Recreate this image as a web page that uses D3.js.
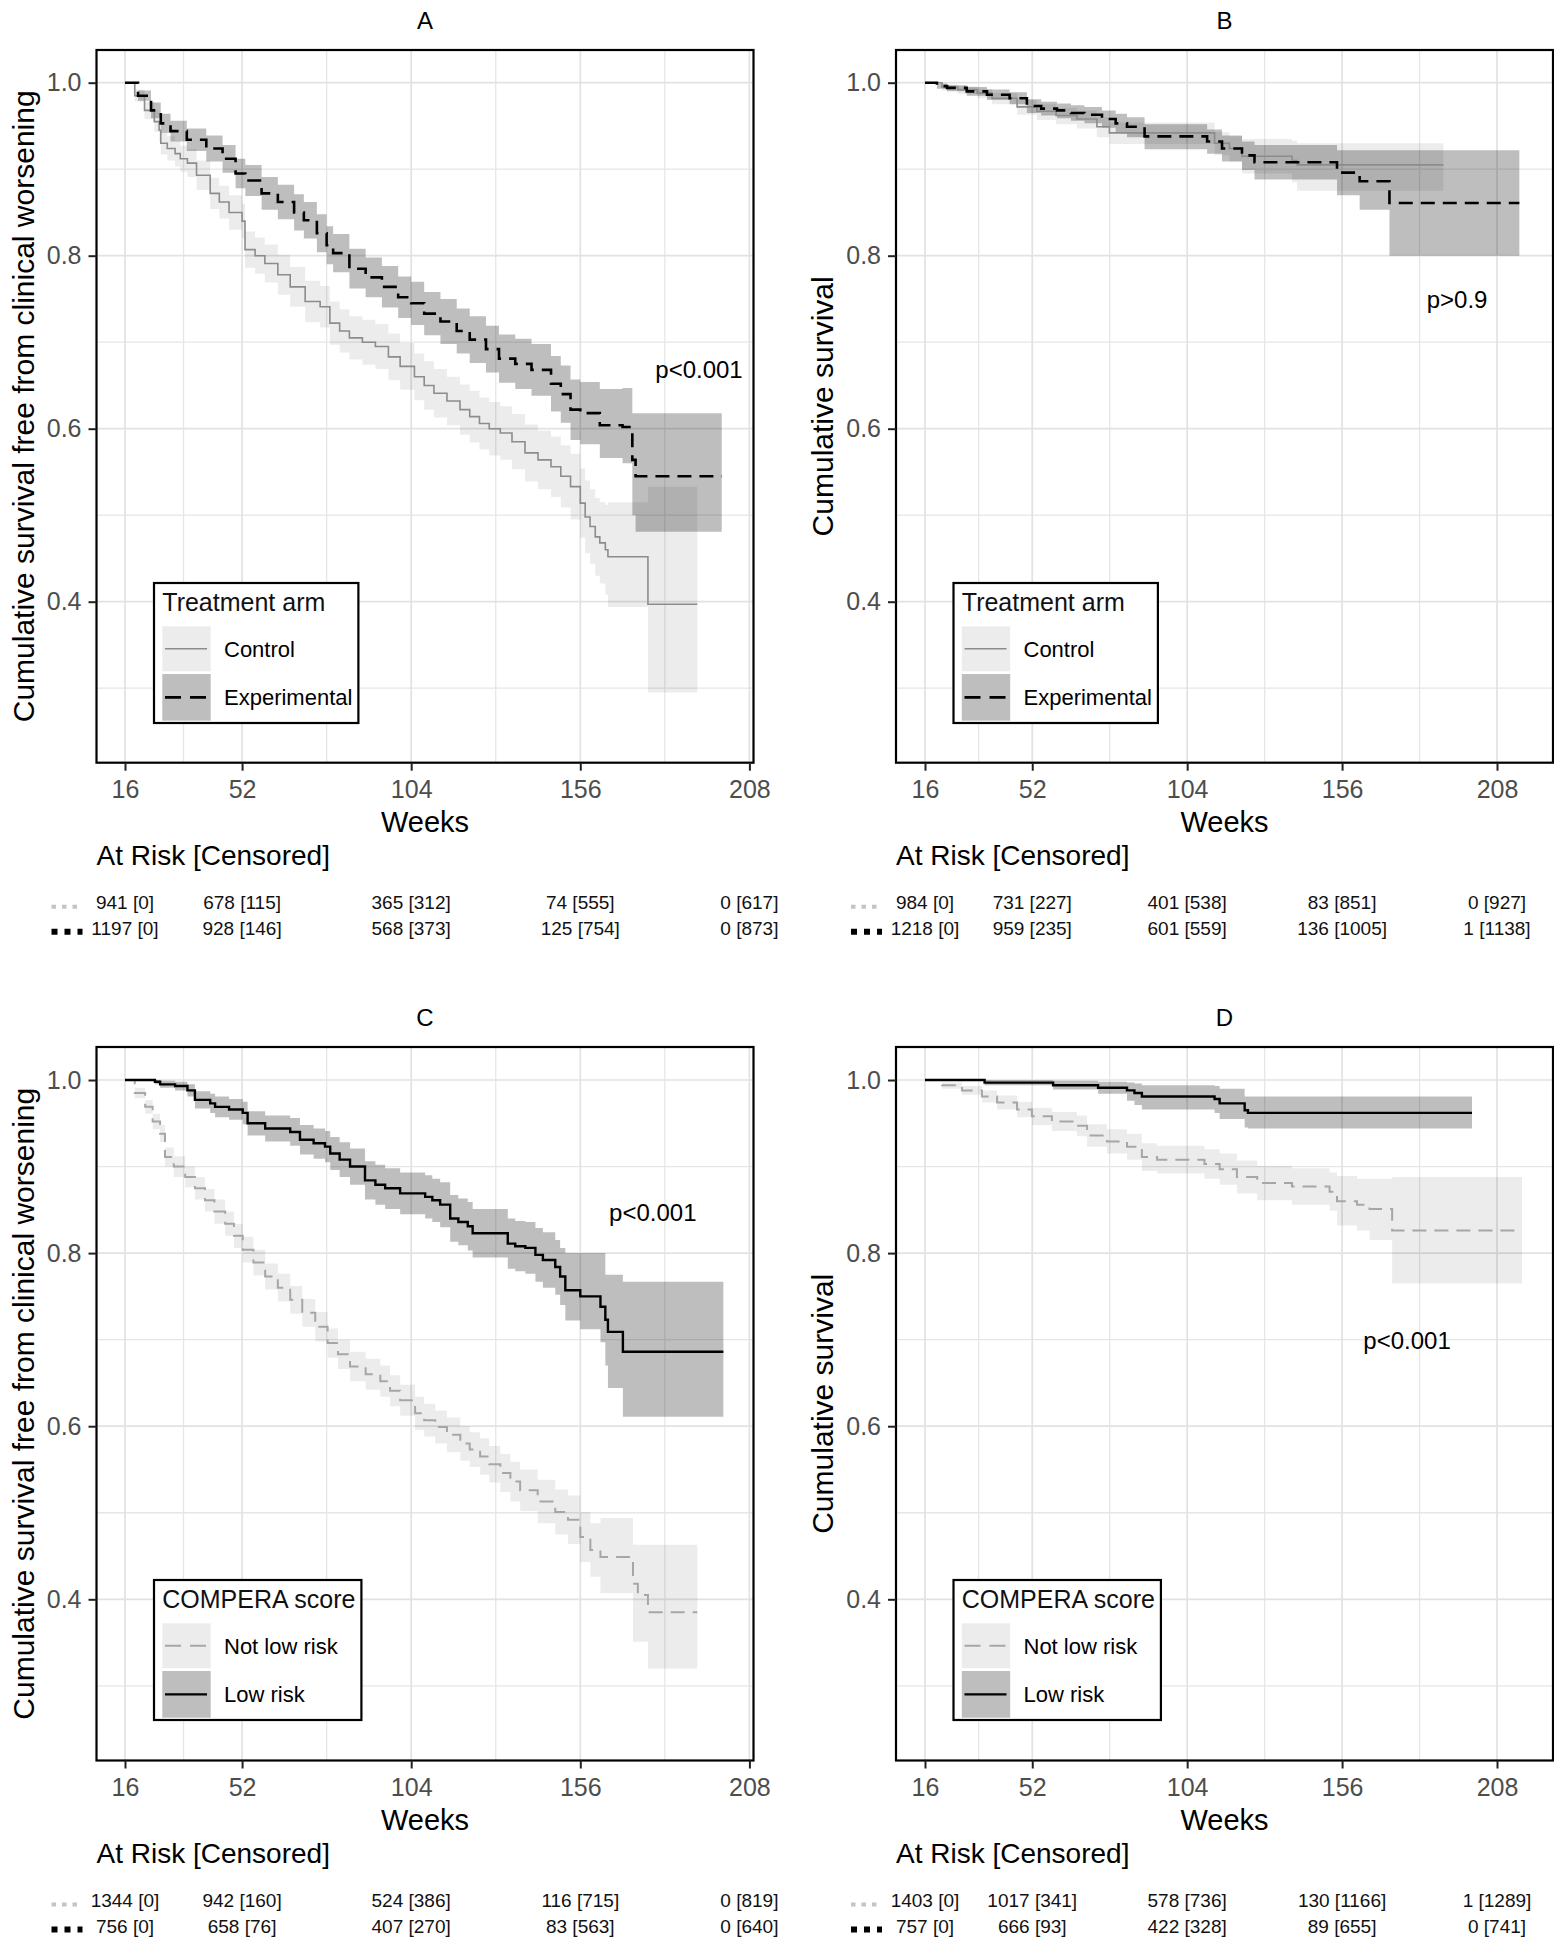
<!DOCTYPE html>
<html><head><meta charset="utf-8">
<script src="https://cdn.jsdelivr.net/npm/d3@7"></script>
<style>
body{margin:0;background:#fff}
svg{display:block}
text{font-family:"Liberation Sans", Arial, Helvetica, sans-serif}
</style>
</head><body>
<svg id="c" width="1554" height="1950"></svg>
<script>
// ---------------- DATA ----------------
const xBreaks = [16, 52, 104, 156, 208];
const xMinor = [34, 78, 130, 182];
const yBreaks = [0.4, 0.6, 0.8, 1.0];
const yMinor = [0.3, 0.5, 0.7, 0.9];

// each row: [week, survival, lower CI, upper CI]
const A_control = [[16,1,1,1],[19,.985,.978,.992],[22,.968,.958,.978],[25,.955,.943,.967],[26.5,.945,.932,.958],[27,.930,.917,.943],[29,.924,.910,.938],[31.4,.918,.903,.933],[33,.912,.897,.927],[35.2,.907,.891,.923],[38,.893,.876,.910],[42.2,.872,.854,.890],[45,.862,.843,.881],[48,.850,.830,.870],[52,.840,.820,.860],[52.9,.807,.786,.828],[56,.800,.779,.821],[59,.791,.769,.813],[63,.778,.755,.801],[66.8,.764,.741,.787],[71.4,.747,.723,.771],[76,.741,.717,.765],[79,.722,.697,.747],[82,.713,.688,.738],[85,.705,.680,.730],[89,.700,.674,.726],[93,.695,.669,.721],[97,.683,.656,.710],[100.6,.672,.645,.699],[105,.660,.633,.687],[108,.650,.622,.678],[111,.641,.613,.669],[115,.632,.604,.660],[119,.622,.593,.651],[122,.614,.584,.644],[125,.606,.576,.636],[128,.600,.569,.631],[131.4,.595,.564,.626],[135,.585,.553,.617],[139,.572,.539,.605],[143,.564,.530,.598],[147,.556,.521,.591],[150,.545,.509,.581],[153,.533,.495,.571],[156,.514,.474,.554],[157.5,.498,.456,.540],[159,.487,.444,.530],[160.6,.475,.430,.520],[162,.468,.421,.515],[163.7,.460,.408,.512],[164.5,.452,.394,.515],[176.8,.397,.295,.533],[192,.397,.295,.533]];
const A_experimental = [[16,1,1,1],[20,.985,.979,.991],[24,.968,.959,.977],[27,.953,.942,.964],[30,.944,.932,.956],[35,.934,.921,.947],[41,.924,.909,.939],[46,.912,.896,.928],[50,.895,.878,.912],[53,.887,.869,.905],[58,.872,.853,.891],[63,.862,.842,.882],[68,.850,.829,.871],[71,.841,.820,.862],[75,.826,.804,.848],[78,.812,.790,.834],[80,.803,.781,.825],[85,.785,.762,.808],[90,.775,.752,.798],[95,.764,.740,.788],[100,.752,.728,.776],[104,.745,.720,.770],[108,.733,.708,.758],[113,.724,.698,.750],[118,.713,.687,.739],[122,.703,.676,.730],[127,.692,.665,.719],[131,.681,.653,.709],[136,.675,.646,.704],[141,.668,.638,.698],[147,.652,.620,.684],[150,.640,.607,.673],[153,.622,.587,.657],[156,.618,.582,.654],[162,.604,.566,.646],[169,.602,.560,.647],[172,.564,.500,.618],[173,.545,.481,.618],[199.5,.545,.481,.618]];
const B_control = [[16,1,1,1],[21.7,.995,.991,.998],[27,.992,.987,.996],[33.5,.988,.982,.993],[38.5,.982,.975,.988],[46.9,.972,.963,.980],[53.6,.967,.957,.975],[60,.962,.952,.971],[67,.958,.947,.968],[73.7,.949,.937,.960],[77.9,.942,.929,.954],[113.2,.930,.916,.943],[118.2,.924,.909,.938],[122.4,.915,.895,.935],[139.2,.910,.885,.933],[140.9,.905,.875,.930],[190,.905,.874,.930]];
const B_experimental = [[16,1,1,1],[20,.996,.993,.999],[23.4,.994,.990,.997],[30,.990,.985,.995],[36.8,.986,.980,.992],[44.4,.982,.975,.989],[50.2,.973,.965,.981],[55,.970,.962,.978],[60.3,.968,.959,.976],[65,.965,.956,.974],[69.5,.963,.953,.972],[75.4,.958,.948,.968],[80,.953,.942,.964],[83.8,.949,.937,.960],[89.7,.938,.923,.952],[110.7,.932,.918,.946],[115.7,.924,.909,.939],[122.4,.916,.899,.932],[126.6,.908,.888,.928],[154.3,.896,.870,.922],[161.9,.886,.853,.922],[171.9,.861,.800,.922],[215.5,.861,.800,.922]];
const C_notLow = [[16,1,1,1],[19,.985,.979,.991],[22.2,.969,.961,.977],[24.5,.952,.943,.961],[26.8,.938,.928,.948],[28.3,.911,.900,.922],[31,.900,.888,.912],[34.5,.888,.876,.900],[37.5,.875,.862,.888],[40.6,.861,.848,.874],[43.5,.848,.834,.862],[46.8,.834,.820,.848],[49.5,.820,.806,.834],[52.2,.804,.789,.819],[55.5,.789,.774,.804],[59.1,.773,.758,.788],[63,.760,.744,.776],[66.8,.746,.730,.762],[70.5,.731,.715,.747],[74.5,.715,.698,.732],[78.3,.696,.679,.713],[81.5,.683,.666,.700],[85.2,.669,.652,.686],[90,.660,.642,.678],[94.5,.652,.634,.670],[97.5,.641,.623,.659],[100.6,.630,.612,.648],[105.2,.615,.596,.634],[108,.607,.588,.626],[111.4,.599,.580,.618],[115,.590,.570,.610],[119.1,.580,.560,.600],[122,.573,.553,.593],[125.2,.565,.544,.586],[128,.556,.535,.577],[131.4,.546,.524,.568],[134.5,.536,.513,.559],[137.5,.526,.502,.550],[142.9,.513,.488,.538],[148.3,.501,.475,.527],[152.2,.492,.464,.520],[156,.472,.443,.501],[159.1,.457,.426,.488],[162.2,.449,.407,.494],[172.2,.418,.351,.463],[173.7,.405,.351,.463],[176.8,.385,.320,.463],[192,.385,.320,.463]];
const C_low = [[16,1,1,1],[25.2,.998,.995,1],[26.8,.995,.991,.999],[31.4,.993,.988,.998],[35.2,.988,.981,.995],[37.5,.977,.967,.987],[42.2,.973,.962,.984],[43.7,.969,.957,.981],[48,.966,.954,.978],[52.2,.962,.949,.975],[53.7,.950,.936,.964],[59.1,.944,.929,.959],[66.8,.940,.924,.956],[69.8,.931,.914,.948],[74,.927,.909,.944],[77.5,.923,.905,.941],[79.1,.915,.896,.934],[82,.908,.888,.928],[85.2,.900,.879,.921],[89.8,.884,.862,.906],[93,.879,.856,.902],[96,.875,.851,.898],[100.6,.869,.845,.893],[108.3,.865,.840,.890],[110.5,.861,.836,.886],[112.9,.856,.830,.882],[116,.840,.813,.867],[118.5,.836,.809,.863],[121.4,.831,.803,.859],[122.9,.823,.795,.851],[133.7,.811,.782,.840],[136,.808,.779,.837],[139.1,.806,.776,.836],[142.2,.798,.767,.829],[144.5,.792,.760,.824],[148.3,.784,.752,.815],[149.8,.773,.740,.806],[151.4,.757,.722,.800],[156,.750,.712,.800],[162.2,.738,.697,.800],[163.7,.723,.670,.775],[164.5,.709,.644,.775],[169.1,.686,.611,.767],[200,.686,.611,.767]];
const D_notLow = [[16,1,1,1],[21.7,.994,.990,.997],[28.4,.988,.983,.993],[35.1,.981,.974,.988],[40.2,.974,.966,.982],[46.9,.966,.957,.975],[51.9,.958,.948,.968],[58.6,.952,.941,.963],[67,.947,.935,.959],[70.4,.936,.923,.949],[77.1,.929,.915,.943],[83.8,.923,.908,.938],[88.8,.911,.895,.927],[93.9,.908,.892,.924],[109.8,.903,.886,.920],[114.9,.897,.879,.915],[120.7,.888,.869,.907],[127.5,.881,.861,.901],[139.2,.877,.856,.898],[151.8,.871,.849,.893],[154.3,.860,.832,.889],[161,.856,.826,.886],[165.2,.851,.815,.886],[172.8,.826,.765,.888],[216.4,.826,.765,.888]];
const D_low = [[16,1,1,1],[36,.997,.994,1],[59,.994,.989,.999],[74.1,.991,.984,.998],[83.8,.988,.976,.997],[86.3,.985,.971,.996],[88.8,.981,.966,.994],[113.2,.978,.962,.993],[114.9,.973,.955,.990],[123.3,.965,.945,.981],[124.4,.962,.944,.981],[199.6,.962,.944,.981]];

// At risk [censored] at weeks 16, 52, 104, 156, 208
const A_risk1 = [941, 678, 365, 74, 0],   A_cens1 = [0, 115, 312, 555, 617];
const A_risk2 = [1197, 928, 568, 125, 0], A_cens2 = [0, 146, 373, 754, 873];
const B_risk1 = [984, 731, 401, 83, 0],   B_cens1 = [0, 227, 538, 851, 927];
const B_risk2 = [1218, 959, 601, 136, 1], B_cens2 = [0, 235, 559, 1005, 1138];
const C_risk1 = [1344, 942, 524, 116, 0], C_cens1 = [0, 160, 386, 715, 819];
const C_risk2 = [756, 658, 407, 83, 0],   C_cens2 = [0, 76, 270, 563, 640];
const D_risk1 = [1403, 1017, 578, 130, 1], D_cens1 = [0, 341, 736, 1166, 1289];
const D_risk2 = [757, 666, 422, 89, 0],   D_cens2 = [0, 93, 328, 655, 741];

const treatLabels = ["Control", "Experimental"];
const comperaLabels = ["Not low risk", "Low risk"];

// ---------------- STYLES / LAYOUT ----------------
const FONT = '"Liberation Sans", Arial, Helvetica, sans-serif';
const styles = {
  control:  {band: 0.075, stroke: "#8c8c8c", width: 1.6, dash: null},
  exper:    {band: 0.255, stroke: "#000",    width: 2.6, dash: "14,8"},
  notLow:   {band: 0.075, stroke: "#a6a6a6", width: 2.0, dash: "14,8"},
  low:      {band: 0.255, stroke: "#000",    width: 2.4, dash: null}
};

const panels = [
  {key: "A", left: 96.5, right: 753.5, top: 50, bottom: 762.7, xr: [125, 749.4], yr: [601.7, 82.7],
   ylab: "Cumulative survival free from clinical worsening", legTitle: "Treatment arm", labels: treatLabels,
   series: [[A_control, styles.control], [A_experimental, styles.exper]], p: "p<0.001", pAt: [192.5, 0.659],
   risk: [[A_risk1, A_cens1], [A_risk2, A_cens2]]},
  {key: "B", left: 896, right: 1553, top: 50, bottom: 762.7, xr: [925, 1497], yr: [601.7, 82.7],
   ylab: "Cumulative survival", legTitle: "Treatment arm", labels: treatLabels,
   series: [[B_control, styles.control], [B_experimental, styles.exper]], p: "p>0.9", pAt: [194.6, 0.7395],
   risk: [[B_risk1, B_cens1], [B_risk2, B_cens2]]},
  {key: "C", left: 96.5, right: 753.5, top: 1047, bottom: 1760.5, xr: [125, 749.4], yr: [1599.3, 1080],
   ylab: "Cumulative survival free from clinical worsening", legTitle: "COMPERA score", labels: comperaLabels,
   series: [[C_notLow, styles.notLow], [C_low, styles.low]], p: "p<0.001", pAt: [178.3, 0.837],
   risk: [[C_risk1, C_cens1], [C_risk2, C_cens2]]},
  {key: "D", left: 896, right: 1553, top: 1047, bottom: 1760.5, xr: [925, 1497], yr: [1599.3, 1080],
   ylab: "Cumulative survival", legTitle: "COMPERA score", labels: comperaLabels,
   series: [[D_notLow, styles.notLow], [D_low, styles.low]], p: "p<0.001", pAt: [177.8, 0.689],
   risk: [[D_risk1, D_cens1], [D_risk2, D_cens2]]}
];

const svg = d3.select("#c");
const defs = svg.append("defs");

panels.forEach(p => {
  const g = svg.append("g");
  const x = d3.scaleLinear().domain([16, 208]).range(p.xr);
  const y = d3.scaleLinear().domain([0.4, 1.0]).range(p.yr);
  const W = p.right - p.left, H = p.bottom - p.top;
  const cid = "clip" + p.key;
  defs.append("clipPath").attr("id", cid).append("rect")
    .attr("x", p.left).attr("y", p.top).attr("width", W).attr("height", H);

  // panel background + grid
  g.append("rect").attr("x", p.left).attr("y", p.top).attr("width", W).attr("height", H).attr("fill", "#fff");
  const grid = g.append("g").attr("clip-path", `url(#${cid})`);
  xMinor.forEach(v => grid.append("line").attr("x1", x(v)).attr("x2", x(v)).attr("y1", p.top).attr("y2", p.bottom)
    .attr("stroke", "#e6e6e6").attr("stroke-width", 1.3));
  yMinor.forEach(v => grid.append("line").attr("y1", y(v)).attr("y2", y(v)).attr("x1", p.left).attr("x2", p.right)
    .attr("stroke", "#e6e6e6").attr("stroke-width", 1.3));
  xBreaks.forEach(v => grid.append("line").attr("x1", x(v)).attr("x2", x(v)).attr("y1", p.top).attr("y2", p.bottom)
    .attr("stroke", "#e2e2e2").attr("stroke-width", 1.7));
  yBreaks.forEach(v => grid.append("line").attr("y1", y(v)).attr("y2", y(v)).attr("x1", p.left).attr("x2", p.right)
    .attr("stroke", "#e2e2e2").attr("stroke-width", 1.7));

  const area = d3.area().curve(d3.curveStepAfter).x(d => x(d[0])).y0(d => y(d[2])).y1(d => y(d[3]));
  const line = d3.line().curve(d3.curveStepAfter).x(d => x(d[0])).y(d => y(d[1]));
  const marks = g.append("g").attr("clip-path", `url(#${cid})`);
  p.series.forEach(([data, st]) => {
    marks.append("path").datum(data).attr("d", area).attr("fill", "#000").attr("fill-opacity", st.band);
  });
  p.series.forEach(([data, st]) => {
    const l = marks.append("path").datum(data).attr("d", line).attr("fill", "none")
      .attr("stroke", st.stroke).attr("stroke-width", st.width);
    if (st.dash) l.attr("stroke-dasharray", st.dash);
  });

  // border
  g.append("rect").attr("x", p.left).attr("y", p.top).attr("width", W).attr("height", H)
    .attr("fill", "none").attr("stroke", "#000").attr("stroke-width", 2.2);

  // axes
  const xa = g.append("g").attr("transform", `translate(0,${p.bottom})`)
    .call(d3.axisBottom(x).tickValues(xBreaks).tickSize(8).tickPadding(9.5).tickFormat(d3.format("d")));
  const ya = g.append("g").attr("transform", `translate(${p.left},0)`)
    .call(d3.axisLeft(y).tickValues(yBreaks).tickSize(8).tickPadding(7).tickFormat(d3.format(".1f")));
  [xa, ya].forEach(a => {
    a.select(".domain").remove();
    a.attr("font-family", FONT).attr("font-size", 25);
    a.selectAll("line").attr("stroke", "#222").attr("stroke-width", 2);
    a.selectAll("text").attr("fill", "#4d4d4d");
  });

  // titles
  g.append("text").attr("x", (p.left + p.right) / 2).attr("y", p.top - 21).attr("text-anchor", "middle")
    .attr("font-size", 24).attr("fill", "#000").text(p.key);
  g.append("text").attr("x", (p.left + p.right) / 2).attr("y", p.bottom + 69).attr("text-anchor", "middle")
    .attr("font-size", 29).attr("fill", "#000").text("Weeks");
  g.append("text").attr("transform", `translate(${p.left - 63},${(p.top + p.bottom) / 2}) rotate(-90)`)
    .attr("text-anchor", "middle").attr("font-size", 30).attr("fill", "#000").text(p.ylab);

  // p value
  g.append("text").attr("x", x(p.pAt[0])).attr("y", y(p.pAt[1])).attr("text-anchor", "middle")
    .attr("font-size", 24).attr("fill", "#000").text(p.p);

  // legend
  const lx = p.left + 57.5, ly = p.top + 533;
  const lg = g.append("g");
  const box = lg.append("rect").attr("x", lx).attr("y", ly).attr("height", 140).attr("fill", "#fff")
    .attr("stroke", "#000").attr("stroke-width", 2.2);
  const tt = lg.append("text").attr("x", lx + 8.3).attr("y", ly + 28.3).attr("font-size", 25).attr("fill", "#111").text(p.legTitle);
  const keys = [[ly + 43.3, 45], [ly + 91, 46.7]];
  let maxEnd = lx + 8.3 + tt.node().getComputedTextLength();
  p.series.forEach(([data, st], i) => {
    const [ky, kh] = keys[i];
    lg.append("rect").attr("x", lx + 8.3).attr("y", ky).attr("width", 48.4).attr("height", kh)
      .attr("fill", "#000").attr("fill-opacity", st.band);
    const kl = lg.append("line").attr("x1", lx + 11).attr("x2", lx + 53).attr("y1", ky + kh / 2).attr("y2", ky + kh / 2)
      .attr("stroke", st.stroke).attr("stroke-width", st.width);
    if (st.dash) kl.attr("stroke-dasharray", "16,9");
    const t = lg.append("text").attr("x", lx + 70).attr("y", ky + kh / 2 + 8).attr("font-size", 22).attr("fill", "#000").text(p.labels[i]);
    maxEnd = Math.max(maxEnd, lx + 70 + t.node().getComputedTextLength());
  });
  box.attr("width", maxEnd + 6 - lx);

  // risk table
  g.append("text").attr("x", p.left).attr("y", p.bottom + 102).attr("font-size", 28).attr("fill", "#000").text("At Risk [Censored]");
  const rowY = [p.bottom + 146, p.bottom + 172];
  const symStyle = [{c: "#c4c4c4", w: 4, d: "4.5,6"}, {c: "#000", w: 6, d: "6,7"}];
  p.risk.forEach(([nr, nc], i) => {
    g.append("line").attr("x1", p.left - 45).attr("x2", p.left - 14).attr("y1", rowY[i] - 2 - i).attr("y2", rowY[i] - 2 - i)
      .attr("stroke", symStyle[i].c).attr("stroke-width", symStyle[i].w).attr("stroke-dasharray", symStyle[i].d);
    xBreaks.forEach((w, j) => {
      g.append("text").attr("x", x(w)).attr("y", rowY[i]).attr("text-anchor", "middle")
        .attr("font-size", 19).attr("fill", "#111").text(`${nr[j]} [${nc[j]}]`);
    });
  });
});
</script>
</body></html>
